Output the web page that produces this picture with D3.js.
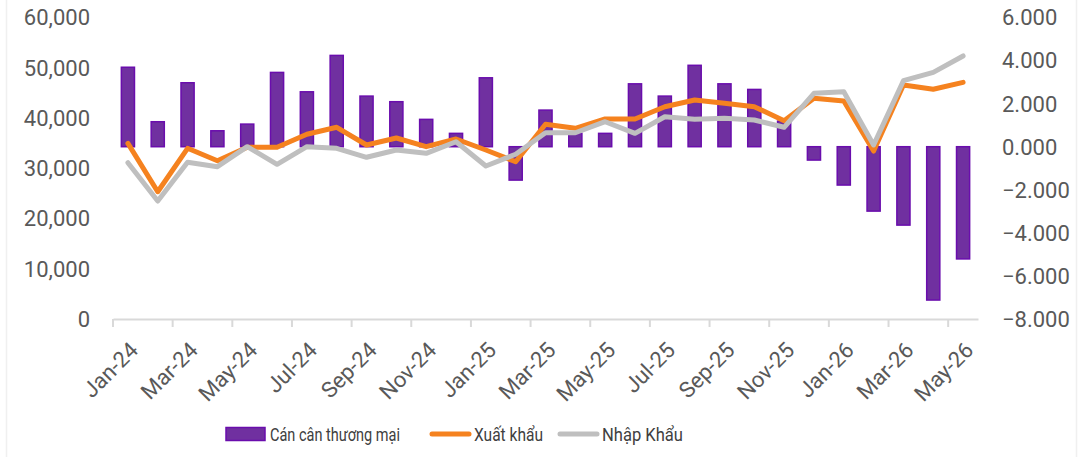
<!DOCTYPE html>
<html>
<head>
<meta charset="utf-8">
<script src="https://cdn.jsdelivr.net/npm/d3@7"></script>
<style>
	body { margin: 0; background: #fff; }
	svg { display: block; }
	.tick-label { font-family: Roboto, "Noto Sans", sans-serif; font-size: 22px; fill: #595959; }
	.legend text { font-family: Roboto, "Noto Sans", sans-serif; font-size: 18px; fill: #404040; }
</style>
</head>
<body>
<div id="chart"></div>
<script>
const months = ['Jan-24', 'Feb-24', 'Mar-24', 'Apr-24', 'May-24', 'Jun-24', 'Jul-24', 'Aug-24', 'Sep-24', 'Oct-24',
	'Nov-24', 'Dec-24', 'Jan-25', 'Feb-25', 'Mar-25', 'Apr-25', 'May-25', 'Jun-25', 'Jul-25', 'Aug-25',
	'Sep-25', 'Oct-25', 'Nov-25', 'Dec-25', 'Jan-26', 'Feb-26', 'Mar-26', 'Apr-26', 'May-26'];

// Cán cân thương mại (right axis)
const balance = [3.69, 1.16, 2.97, 0.74, 1.05, 3.45, 2.55, 4.24, 2.35, 2.09,
	1.27, 0.62, 3.20, -1.55, 1.70, 0.62, 0.62, 2.92, 2.35, 3.78,
	2.92, 2.66, 1.19, -0.62, -1.78, -2.99, -3.64, -7.12, -5.21];

// Xuất khẩu (left axis)
const exports = [34960, 25330, 33970, 31500, 34170, 34170, 36760, 38150, 34630, 36020,
	34290, 35820, 33630, 31300, 38750, 37950, 39800, 39800, 42250, 43580,
	42920, 42250, 39460, 43920, 43380, 33430, 46570, 45710, 47100];

// Nhập Khẩu (left axis)
const imports = [31100, 23480, 31180, 30310, 34290, 30790, 34290, 33970, 32180, 33630,
	32970, 35280, 30450, 32780, 37070, 37070, 39260, 36950, 40260, 39740,
	39940, 39600, 38150, 44910, 45230, 34630, 47420, 49090, 52340];

const leftTicks = [0, 10000, 20000, 30000, 40000, 50000, 60000];
const rightTicks = [-8, -6, -4, -2, 0, 2, 4, 6];

const legendItems = [
	{label: 'Cán cân thương mại', type: 'bar', textWidth: 130},
	{label: 'Xuất khẩu', type: 'line', color: '#f5821f', textWidth: 69},
	{label: 'Nhập Khẩu', type: 'line', color: '#bfbfbf', textWidth: 81}
];

const width = 1082, height = 457;
const colors = {bar: '#7030a0', barStroke: '#6a0dad', exports: '#f5821f', imports: '#bfbfbf'};

const svg = d3.select('#chart')
	.append('svg')
	.attr('width', width)
	.attr('height', height);

// faint frame edges
svg.append('g')
	.selectAll('line')
	.data([6.5, 1076.5])
	.join('line')
	.attr('x1', d => d).attr('x2', d => d)
	.attr('y1', 0).attr('y2', height)
	.attr('stroke', '#f0f0f0')
	.attr('stroke-width', 1.5);

const x = d3.scaleBand()
	.domain(months)
	.range([113, 978])
	.padding(0);

const yLeft = d3.scaleLinear()
	.domain([0, 60000])
	.range([319, 17.5]);

const yRight = d3.scaleLinear()
	.domain([-8, 6])
	.range([319, 17.5]);

const cx = d => x(d) + x.bandwidth() / 2;

// left axis labels
svg.append('g')
	.selectAll('text')
	.data(leftTicks)
	.join('text')
	.attr('class', 'tick-label')
	.attr('x', 90)
	.attr('y', d => yLeft(d))
	.attr('dy', '0.36em')
	.attr('text-anchor', 'end')
	.text(d => d3.format(',')(d));

// right axis labels
svg.append('g')
	.selectAll('text')
	.data(rightTicks)
	.join('text')
	.attr('class', 'tick-label')
	.attr('x', 1002)
	.attr('y', d => yRight(d))
	.attr('dy', '0.36em')
	.text(d => d3.format('.3f')(d));

// x axis
const xAxis = d3.axisBottom(x)
	.tickSize(0)
	.tickFormat('');

svg.append('g')
	.attr('transform', `translate(0,${yLeft(0)})`)
	.call(xAxis)
	.call(g => g.select('.domain').attr('stroke', '#d9d9d9').attr('stroke-width', 2))
	.call(g => g.selectAll('.tick').remove())
	.call(g => {
		return g.selectAll('line.sep')
			.data(d3.range(0, months.length + 1, 2))
			.join('line')
			.attr('class', 'sep')
			.attr('x1', i => x.range()[0] + i * x.step())
			.attr('x2', i => x.range()[0] + i * x.step())
			.attr('y1', 0)
			.attr('y2', 8)
			.attr('stroke', '#d9d9d9')
			.attr('stroke-width', 2);
	});

svg.append('g')
	.selectAll('text')
	.data(months.filter((d, i) => i % 2 === 0))
	.join('text')
	.attr('class', 'tick-label')
	.attr('text-anchor', 'end')
	.attr('dy', '0.36em')
	.attr('transform', d => `translate(${cx(d) + 6},${346}) rotate(-45)`)
	.text(d => d);

// bars
const barWidth = x.bandwidth() * 0.44;
svg.append('g')
	.selectAll('rect')
	.data(months.map((m, i) => ({m, v: balance[i]})))
	.join('rect')
	.attr('x', d => cx(d.m) - barWidth / 2)
	.attr('y', d => yRight(Math.max(0, d.v)))
	.attr('width', barWidth)
	.attr('height', d => Math.abs(yRight(d.v) - yRight(0)))
	.attr('fill', colors.bar)
	.attr('stroke', colors.barStroke)
	.attr('stroke-width', 1.5);

// lines
const line = d3.line()
	.x((d, i) => cx(months[i]))
	.y(d => yLeft(d));

[[exports, colors.exports], [imports, colors.imports]].forEach(([values, color]) => {
	svg.append('path')
		.datum(values)
		.attr('d', line)
		.attr('fill', 'none')
		.attr('stroke', color)
		.attr('stroke-width', 5)
		.attr('stroke-linejoin', 'round')
		.attr('stroke-linecap', 'round');
});

// legend
const legendPos = [226, 430, 558];
const legend = svg.append('g')
	.attr('class', 'legend')
	.selectAll('g')
	.data(legendItems)
	.join('g')
	.attr('transform', (d, i) => `translate(${legendPos[i]},434)`);

legend.filter(d => d.type === 'bar')
	.append('rect')
	.attr('x', 0).attr('y', -6.5)
	.attr('width', 39).attr('height', 13)
	.attr('fill', colors.bar)
	.attr('stroke', colors.barStroke)
	.attr('stroke-width', 1.5);

legend.filter(d => d.type === 'line')
	.append('line')
	.attr('x1', 2).attr('x2', 39)
	.attr('stroke', d => d.color)
	.attr('stroke-width', 5)
	.attr('stroke-linecap', 'round');

// the reference legend font is a narrow one, so squeeze the text to its width
legend.append('text')
	.attr('x', 44)
	.attr('y', 7)
	.attr('textLength', d => d.textWidth)
	.attr('lengthAdjust', 'spacingAndGlyphs')
	.text(d => d.label);
</script>
</body>
</html>
